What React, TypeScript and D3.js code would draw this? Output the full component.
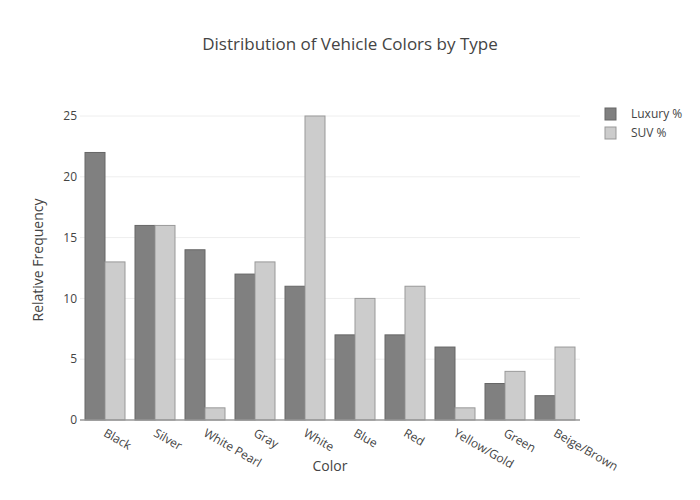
import React from "react";
import * as d3 from "d3";

const categories = ["Black", "Silver", "White Pearl", "Gray", "White", "Blue", "Red", "Yellow/Gold", "Green", "Beige/Brown"];
const luxury = [22, 16, 14, 12, 11, 7, 7, 6, 3, 2];
const suv = [13, 16, 1, 13, 25, 10, 11, 1, 4, 6];
const yTicks = [0, 5, 10, 15, 20, 25];
const seriesNames = ["Luxury %", "SUV %"];

const W = 700, H = 500;
const M = { l: 80, r: 120, t: 100, b: 80 };
const FONT = "'Open Sans', verdana, arial, sans-serif";

export default function App() {
  const x = d3.scaleBand<string>().domain(categories).range([M.l, W - M.r]).paddingInner(0.2).paddingOuter(0.1);
  const x0 = d3.scaleBand<string>().domain(categories).range([M.l, W - M.r]);
  const y = d3.scaleLinear().domain([0, 25 / 0.95]).range([H - M.b, M.t]);
  const sub = d3.scaleBand<number>().domain([0, 1]).range([0, x.bandwidth()]);
  const series = [luxury, suv];
  const fills = ["#808080", "#cccccc"];
  const strokes = ["#666666", "#999999"];
  return (
    <div style={{ position: "absolute", left: 0, top: 0 }}>
      <svg width={W} height={H} style={{ display: "block", fontFamily: FONT }}>
        <rect width={W} height={H} fill="#fff" />
        {yTicks.filter(t => t > 0).map(t => (
          <line key={t} x1={M.l} x2={W - M.r} y1={y(t)} y2={y(t)} stroke="#eee" strokeWidth={1} />
        ))}
        {yTicks.map(t => (
          <text key={t} x={M.l - 3} y={y(t)} dy="0.35em" textAnchor="end" fontSize={12} fill="#444">{t}</text>
        ))}
        {series.map((s, si) =>
          s.map((v, i) => (
            <rect key={si + "-" + i}
              x={(x(categories[i]) as number) + (sub(si) as number)}
              y={y(v)}
              width={sub.bandwidth()}
              height={y(0) - y(v)}
              fill={fills[si]} stroke={strokes[si]} strokeWidth={1} />
          ))
        )}
        <line x1={M.l} x2={W - M.r} y1={y(0)} y2={y(0)} stroke="#999" strokeWidth={1.5} />
        {categories.map(c => {
          const cx = (x0(c) as number) + x0.bandwidth() / 2;
          return (
            <text key={c} transform={`translate(${cx + 2},${y(0) + 8}) rotate(30)`} dy="0.71em" textAnchor="start" fontSize={12} fill="#444">{c}</text>
          );
        })}
        <text x={(M.l + W - M.r) / 2} y={471} textAnchor="middle" fontSize={14} fill="#444">Color</text>
        <text transform={`translate(43,${(M.t + H - M.b) / 2}) rotate(-90)`} textAnchor="middle" fontSize={14} fill="#444">Relative Frequency</text>
        <text x={350} y={50} textAnchor="middle" fontSize={17} fill="#444">Distribution of Vehicle Colors by Type</text>
        {seriesNames.map((n, i) => (
          <g key={n} transform={`translate(605,${114 + i * 19})`}>
            <rect x={0} y={-6} width={11} height={12} fill={fills[i]} stroke={strokes[i]} strokeWidth={1} />
            <text x={26} y={0} dy="0.35em" fontSize={12} fill="#444">{n}</text>
          </g>
        ))}
      </svg>
    </div>
  );
}
